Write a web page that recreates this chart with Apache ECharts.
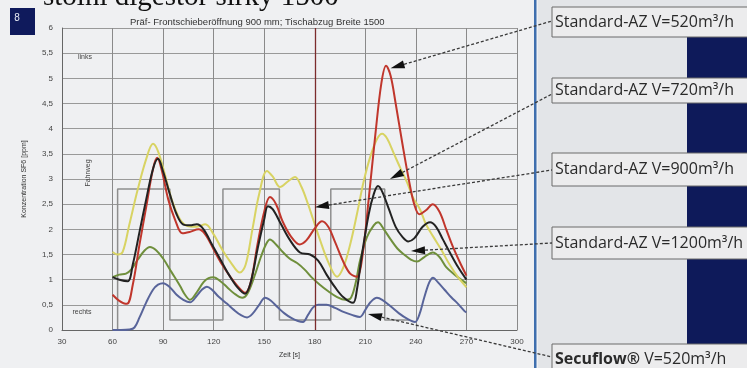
<!DOCTYPE html>
<html>
<head>
<meta charset="utf-8">
<script src="https://cdn.jsdelivr.net/npm/echarts@6/dist/echarts.min.js"></script>
<style>
  html, body { margin: 0; padding: 0; background: #eff0f2; }
  #chart { width: 747px; height: 368px; }
</style>
</head>
<body>
<div id="chart"></div>
<script>
// Axis ticks
const xTicks = [30, 60, 90, 120, 150, 180, 210, 240, 270, 300];
const yTicks = [0, 0.5, 1, 1.5, 2, 2.5, 3, 3.5, 4, 4.5, 5, 5.5, 6];

// Series names (labels on the right)
const seriesNames = [
  'Standard-AZ V=520m³/h',
  'Standard-AZ V=720m³/h',
  'Standard-AZ V=900m³/h',
  'Standard-AZ V=1200m³/h',
  'Secuflow® V=520m³/h'
];

// SF6 concentration [ppm] over time [s]
const az520 = [[60,0.70],[64,0.58],[68.5,0.52],[72,0.9],[76,1.7],[80,2.45],[84,3.2],[86.5,3.42],[89,3.2],[93,2.6],[97,2.2],[101.5,1.92],[106,1.95],[111,2.0],[115,1.9],[120,1.6],[125,1.3],[130,1.05],[135,0.84],[138.6,0.74],[142,0.95],[146,1.7],[150,2.35],[153.4,2.64],[157,2.5],[161,2.15],[166,1.85],[171,1.7],[175,1.78],[180,2.02],[184.3,2.16],[188,2.05],[192,1.75],[197,1.35],[201,1.12],[205,1.06],[208,1.4],[212,2.6],[216,3.9],[219.5,4.9],[222.3,5.25],[225,5.05],[228,4.5],[232,3.7],[236,2.95],[239,2.5],[242,2.3],[246,2.38],[250,2.5],[254,2.35],[258,2.0],[262,1.65],[266,1.35],[270,1.08]];
const az720 = [[60,1.55],[63,1.5],[66,1.55],[70,2.1],[75,2.8],[80,3.4],[84,3.7],[87,3.55],[91,3.1],[95,2.6],[100,2.2],[105,2.06],[110,2.05],[115,2.1],[120,1.9],[125,1.6],[130,1.35],[135.6,1.14],[139,1.3],[143,2.0],[147,2.7],[151.6,3.16],[155,3.05],[159.4,2.84],[164,2.95],[168.3,3.04],[172,2.85],[176,2.5],[179,2.2],[183,1.8],[188,1.35],[193.2,1.06],[197,1.25],[201,1.7],[205,2.3],[209,2.95],[213,3.45],[217,3.8],[220,3.9],[223,3.8],[227,3.5],[231,3.2],[234.7,2.94],[238,2.65],[242.4,2.4],[246,2.1],[250.2,1.86],[255,1.6],[260,1.3],[265,1.05],[270,0.85]];
const az900 = [[60,1.05],[64,1.0],[69,0.97],[72,1.3],[76,1.95],[80,2.6],[84,3.2],[87,3.4],[90,3.15],[94,2.7],[98,2.3],[101.8,2.1],[106,2.08],[110,2.1],[114,2.0],[119,1.7],[124,1.4],[129,1.1],[134,0.85],[138.6,0.72],[142,0.95],[146,1.6],[150,2.2],[152.2,2.46],[155,2.4],[160,2.1],[165,1.8],[171.2,1.54],[177.2,1.5],[182,1.38],[187,1.1],[192,0.85],[197,0.65],[202.7,0.54],[205,0.8],[208,1.5],[212,2.3],[215,2.7],[217.5,2.86],[220,2.75],[224,2.4],[228,2.05],[232,1.85],[235.5,1.76],[239,1.82],[244,2.05],[248.4,2.14],[252,2.05],[256,1.8],[260,1.55],[265,1.25],[270,1.0]];
const az1200 = [[60,1.05],[64,1.1],[68,1.12],[71,1.2],[75,1.4],[79,1.58],[82.2,1.65],[86,1.58],[90,1.42],[95,1.15],[100,0.88],[103,0.7],[106,0.6],[110,0.75],[114,0.95],[117,1.03],[120,1.05],[124,0.97],[128,0.85],[132,0.73],[137,0.64],[140,0.72],[144,1.05],[148,1.45],[151,1.7],[153.4,1.8],[157,1.7],[161,1.55],[165,1.42],[169.5,1.33],[174,1.2],[178,1.05],[183,0.9],[188,0.77],[193,0.66],[198,0.6],[201,0.62],[204,0.9],[207,1.4],[211,1.85],[215,2.08],[217.5,2.14],[221,2.0],[225,1.8],[229,1.62],[233,1.5],[237,1.4],[240.7,1.36],[245,1.45],[250,1.54],[254,1.45],[258,1.25],[263,1.1],[268,0.97],[270,0.93]];
const secuflow520 = [[60,0.0],[65,0.0],[70,0.01],[73,0.05],[76,0.25],[80,0.55],[84,0.8],[87,0.9],[90,0.93],[94,0.85],[98,0.7],[102,0.6],[106,0.55],[110,0.68],[113,0.8],[116,0.86],[119,0.8],[123,0.66],[128,0.52],[132,0.4],[136,0.3],[139.8,0.25],[143,0.32],[147,0.5],[150.5,0.64],[154,0.58],[158,0.45],[162,0.33],[166,0.24],[170,0.18],[173,0.16],[176,0.3],[179,0.45],[182,0.5],[187,0.5],[192,0.44],[197,0.36],[202,0.3],[206.8,0.26],[210,0.4],[213,0.55],[216.9,0.64],[220,0.6],[225,0.47],[230,0.33],[235,0.22],[239.5,0.16],[242,0.3],[245,0.65],[248,0.95],[250.2,1.04],[253,0.95],[257,0.8],[261,0.65],[265,0.52],[269,0.37],[270,0.35]];

// Sash travel profile (Fahrweg: rechts -> links)
const fahrweg = [[63,0],[63,2.8],[94,2.8],[94,0.2],[125.5,0.2],[125.5,2.8],[159,2.8],[159,0.2],[189.5,0.2],[189.5,2.8],[221.5,2.8],[221.5,0.2],[236,0.2]];

const chart = echarts.init(document.getElementById('chart'), null, { renderer: 'canvas' });
const FONT = "'Liberation Sans', Arial, sans-serif";
const LABEL_FONT = "'Open Sans', sans-serif";

function lineSeries(name, data, color, z) {
  return {
    name, type: 'line', data, smooth: 0.35, showSymbol: false, symbol: 'none',
    lineStyle: { color, width: 2 }, z, silent: true, animation: false
  };
}

chart.setOption({
  animation: false,
  backgroundColor: '#eff0f2',
  textStyle: { fontFamily: FONT },
  title: {
    text: 'Präf- Frontschieberöffnung 900 mm; Tischabzug Breite 1500',
    left: 125, top: 12,
    textStyle: { fontSize: 9.5, fontWeight: 'normal', color: '#333', fontFamily: FONT }
  },
  grid: { left: 62, right: 230, top: 28, bottom: 38 },
  xAxis: {
    type: 'value', min: xTicks[0], max: xTicks[xTicks.length - 1], interval: 30,
    name: 'Zeit [s]', nameLocation: 'middle', nameGap: 22,
    nameTextStyle: { fontSize: 7, color: '#333' },
    axisLine: { lineStyle: { color: '#666' } },
    axisTick: { show: false },
    axisLabel: { fontSize: 8, color: '#444', margin: 8 },
    splitLine: { show: true, lineStyle: { color: '#8a8a8a', width: 1 } }
  },
  yAxis: {
    type: 'value', min: yTicks[0], max: yTicks[yTicks.length - 1], interval: 0.5,
    name: 'Konzentration SF6 [ppm]', nameLocation: 'middle', nameGap: 34,
    nameTextStyle: { fontSize: 7, color: '#333' },
    axisLine: { show: true, lineStyle: { color: '#666' } },
    axisTick: { show: false },
    axisLabel: { fontSize: 8, color: '#444', margin: 9, formatter: v => String(v).replace('.', ',') },
    splitLine: { show: true, lineStyle: { color: '#999', width: 1 } }
  },
  series: [
    {
      name: 'Fahrweg', type: 'line', data: fahrweg, showSymbol: false, symbol: 'none',
      lineStyle: { color: '#8e8e8e', width: 1.5 }, z: 1, silent: true,
      markLine: {
        silent: true, symbol: 'none', label: { show: false },
        lineStyle: { color: '#7c2c2c', width: 1.3, type: 'solid' },
        data: [{ xAxis: 180 }]
      }
    },
    lineSeries(seriesNames[4], secuflow520, '#58649a', 2),
    lineSeries(seriesNames[3], az1200, '#6f8f3c', 3),
    lineSeries(seriesNames[1], az720, '#d8d363', 4),
    lineSeries(seriesNames[0], az520, '#c0362c', 5),
    lineSeries(seriesNames[2], az900, '#222222', 6)
  ]
});

// ---- annotations and side panel ----
const boxX = 552;
const boxes = [
  { y: 7, h: 30, ty: 22 },
  { y: 78, h: 25, ty: 90.5 },
  { y: 153, h: 33, ty: 169.5 },
  { y: 227, h: 32, ty: 243 },
  { y: 344, h: 32, ty: 359 }
];
const navyBlocks = [
  { y: 37, h: 41 }, { y: 103, h: 50 }, { y: 186, h: 41 }, { y: 259, h: 85 }
];
// pointer targets in data coordinates [s, ppm]
const pointerTargets = [[225, 5.2], [224.6, 3.0], [180.1, 2.44], [237.1, 1.57], [211.6, 0.32]];
const pointerStartY = [21, 94, 170, 243, 357];

const g = [];
g.push({ type: 'rect', shape: { x: 538, y: 0, width: 209, height: 368 }, style: { fill: '#e3e5e8' }, z: 0 });
g.push({ type: 'rect', shape: { x: 534, y: 0, width: 2.5, height: 368 }, style: { fill: '#3f6fae' }, z: 1 });
navyBlocks.forEach(b => g.push({ type: 'rect', shape: { x: 687, y: b.y, width: 60, height: b.h }, style: { fill: '#0e1a5a' }, z: 1 }));
boxes.forEach((b, i) => {
  g.push({ type: 'rect', shape: { x: boxX, y: b.y, width: 200, height: b.h }, style: { fill: '#ececed', stroke: '#6b6b6b', lineWidth: 1 }, z: 2 });
  const isSecu = i === 4;
  g.push({
    type: 'text', x: boxX + 3, y: b.ty, z: 3,
    style: {
      text: isSecu ? '{b|Secuflow®} V=520m³/h' : seriesNames[i],
      font: '16px ' + LABEL_FONT, fill: '#2a2a2a',
      textAlign: 'left', textVerticalAlign: 'middle', align: 'left', verticalAlign: 'middle',
      rich: { b: { fontWeight: 'bold', fontSize: 16, fontFamily: LABEL_FONT, fill: '#2a2a2a' } }
    }
  });
});

// pointers: dashed line with filled arrowhead
pointerTargets.forEach((tgt, i) => {
  const tip = chart.convertToPixel({ xAxisIndex: 0, yAxisIndex: 0 }, tgt);
  const sx = boxX, sy = pointerStartY[i];
  const dx = sx - tip[0], dy = sy - tip[1];
  const len = Math.hypot(dx, dy);
  const ux = dx / len, uy = dy / len;
  const headL = 14, headW = 4;
  const bx = tip[0] + ux * headL, by = tip[1] + uy * headL;
  g.push({ type: 'polyline', shape: { points: [[bx, by], [sx, sy]] }, style: { stroke: '#3a3a3a', lineWidth: 1.3, lineDash: [3, 2], fill: null }, z: 10 });
  g.push({ type: 'polygon', shape: { points: [tip, [bx - uy * headW, by + ux * headW], [bx + uy * headW, by - ux * headW]] }, style: { fill: '#111' }, z: 11 });
});

// small texts inside the plot
g.push({ type: 'text', x: 85, y: 57, z: 5, style: { text: 'links', font: '7px ' + FONT, fill: '#444', textAlign: 'center', textVerticalAlign: 'middle', align: 'center', verticalAlign: 'middle' } });
g.push({ type: 'text', x: 82, y: 312, z: 5, style: { text: 'rechts', font: '7px ' + FONT, fill: '#444', textAlign: 'center', textVerticalAlign: 'middle', align: 'center', verticalAlign: 'middle' } });
g.push({ type: 'text', x: 88, y: 173, rotation: Math.PI / 2, z: 5, style: { text: 'Fahrweg', font: '7px ' + FONT, fill: '#444', textAlign: 'center', textVerticalAlign: 'middle', align: 'center', verticalAlign: 'middle' } });

// page number badge
g.push({ type: 'rect', shape: { x: 10, y: 8, width: 25, height: 27 }, style: { fill: '#0f1a5c' }, z: 5 });
g.push({ type: 'text', x: 17, y: 18, z: 6, style: { text: '8', font: '10px ' + FONT, fill: '#e8ecf5', textAlign: 'center', textVerticalAlign: 'middle', align: 'center', verticalAlign: 'middle' } });

// heading line (partly above the top edge)
g.push({ type: 'text', x: 43, y: -3, z: 6, style: { text: 'stolní digestoř šířky 1500', font: "29px 'Liberation Serif', serif", fill: '#111', textAlign: 'left', textVerticalAlign: 'middle', align: 'left', verticalAlign: 'middle' } });

chart.setOption({ graphic: { elements: g } });
</script>
</body>
</html>
